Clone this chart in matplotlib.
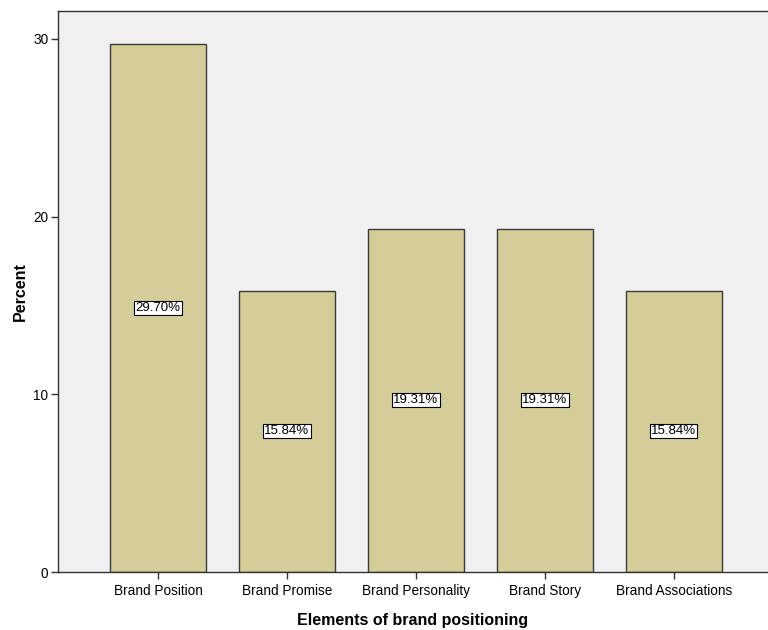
import numpy as np
import matplotlib
matplotlib.use("Agg")
import matplotlib.pyplot as plt

plt.rcParams['font.family'] = ['Liberation Sans', 'DejaVu Sans']

# Percent of respondents per element
elements = ['Brand Position', 'Brand Promise', 'Brand Personality',
            'Brand Story', 'Brand Associations']
percent = [29.70, 15.84, 19.31, 19.31, 15.84]

fig = plt.figure(figsize=(7.68, 6.3), dpi=100)
ax = fig.add_axes([58 / 768, 58 / 630, 1 - 58 / 768, (572 - 11) / 630])
ax.set_facecolor('#f0f0f0')

x = np.arange(len(elements))
ax.bar(x, percent, width=0.745, color='#d3ce98', edgecolor='#3a3a3a', linewidth=1.0, zorder=2)

for xi, v in zip(x, percent):
    ax.text(xi, v / 2, f'{v:.2f}%', ha='center', va='center', fontsize=9.5,
            bbox=dict(boxstyle='square,pad=0.08', fc='white', ec='black', lw=0.8), zorder=3)

ax.set_xlim(-0.775, 4.73)
ax.set_ylim(0, 31.57)
ax.set_yticks([0, 10, 20, 30])
ax.set_xticks(x)
ax.set_xticklabels(elements, fontsize=9.8)
ax.tick_params(axis='y', labelsize=9.8, length=5, width=1, color='#333333', pad=2)
ax.tick_params(axis='x', length=5, width=1, color='#333333', pad=3.5)

for side in ['left', 'bottom', 'top']:
    ax.spines[side].set_color('#333333')
    ax.spines[side].set_linewidth(1.0)
ax.spines['right'].set_visible(False)

ax.set_xlabel('Elements of brand positioning', fontsize=11.5, fontweight='bold', labelpad=11)
ax.set_ylabel('Percent', fontsize=11.5, fontweight='bold', labelpad=4)

fig.savefig('out.png', dpi=100)
